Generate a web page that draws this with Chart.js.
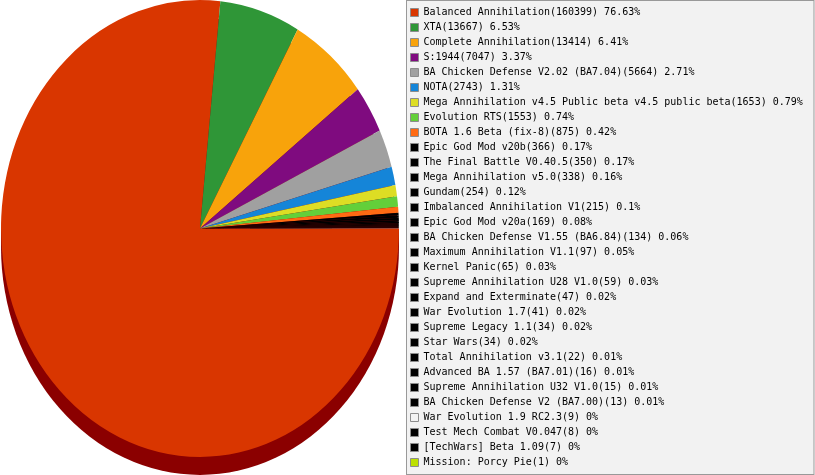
<!DOCTYPE html>
<html>
<head>
<meta charset="utf-8">
<script src="https://cdn.jsdelivr.net/npm/chart.js@4/dist/chart.umd.min.js"></script>
<style>
  html, body { margin:0; padding:0; background:#fff; }
  #wrap { width:815px; height:475px; }
</style>
</head>
<body>
<div id="wrap"><canvas id="pie"></canvas></div>
<script>
// ===== DATA =====
const names = [
  "Balanced Annihilation", "XTA", "Complete Annihilation", "S:1944",
  "BA Chicken Defense V2.02 (BA7.04)", "NOTA",
  "Mega Annihilation v4.5 Public beta v4.5 public beta", "Evolution RTS",
  "BOTA 1.6 Beta (fix-8)", "Epic God Mod v20b", "The Final Battle V0.40.5",
  "Mega Annihilation v5.0", "Gundam", "Imbalanced Annihilation V1",
  "Epic God Mod v20a", "BA Chicken Defense V1.55 (BA6.84)",
  "Maximum Annihilation V1.1", "Kernel Panic", "Supreme Annihilation U28 V1.0",
  "Expand and Exterminate", "War Evolution 1.7", "Supreme Legacy 1.1",
  "Star Wars", "Total Annihilation v3.1", "Advanced BA 1.57 (BA7.01)",
  "Supreme Annihilation U32 V1.0", "BA Chicken Defense V2 (BA7.00)",
  "War Evolution 1.9 RC2.3", "Test Mech Combat V0.047", "[TechWars] Beta 1.09",
  "Mission: Porcy Pie"
];
const counts = [
  160399, 13667, 13414, 7047, 5664, 2743, 1653, 1553, 875, 366, 350, 338,
  254, 215, 169, 134, 97, 65, 59, 47, 41, 34, 34, 22, 16, 15, 13, 9, 8, 7, 1
];
const pcts = [
  "76.63", "6.53", "6.41", "3.37", "2.71", "1.31", "0.79", "0.74", "0.42",
  "0.17", "0.17", "0.16", "0.12", "0.1", "0.08", "0.06", "0.05", "0.03",
  "0.03", "0.02", "0.02", "0.02", "0.02", "0.01", "0.01", "0.01", "0.01",
  "0", "0", "0", "0"
];
const colors = [
  "#d93600", "#2f9637", "#f8a30b", "#7f0b7f", "#a0a0a0", "#1585d8",
  "#dddd24", "#63cf3a", "#ff6a13", "#000000", "#000000", "#000000",
  "#000000", "#000000", "#000000", "#000000", "#000000", "#000000",
  "#000000", "#000000", "#000000", "#000000", "#000000", "#000000",
  "#000000", "#000000", "#000000", "#f2f2f2", "#000000", "#000000",
  "#bde000"
];

const labels = names.map((n,i)=>`${n}(${counts[i]}) ${pcts[i]}%`);

// ===== LOOK =====
const TILT = 1.148;   // vertical stretch of the pie face
const DEPTH = 18;     // thickness of the pie side
const SIDE = '#8b0000';

// pie face stretched + dark side underneath, pie hugging the left edge
const tiltPlugin = {
  id:'tilt',
  beforeDatasetsDraw(chart){
    const arc = chart.getDatasetMeta(0).data[0];
    if(!arc) return;
    const {x, y, outerRadius:r} = arc;
    const ctx = chart.ctx;
    const cx = chart.chartArea.left + r + 1;
    ctx.save();
    ctx.translate(cx, y - DEPTH/2);
    ctx.scale(1, TILT);
    ctx.translate(-x, -y);
    const d = DEPTH / TILT;
    ctx.fillStyle = SIDE;
    ctx.fillRect(x - r, y, 2*r, d);
    ctx.beginPath();
    ctx.arc(x, y + d, r, 0, Math.PI*2);
    ctx.fill();
  },
  afterDatasetsDraw(chart){
    chart.ctx.restore();
  }
};

// grey panel behind the legend
const legendBox = {
  id:'legendBox',
  beforeDraw(chart){
    const lg = chart.legend;
    const ctx = chart.ctx;
    ctx.save();
    ctx.fillStyle = '#f2f2f2';
    ctx.strokeStyle = '#999';
    ctx.lineWidth = 1;
    const left = Math.round(lg.left) + 0.5;
    ctx.fillRect(left, 0.5, chart.width - 1 - left, chart.height - 1);
    ctx.strokeRect(left, 0.5, chart.width - 1 - left, chart.height - 1);
    ctx.restore();
  }
};

new Chart(document.getElementById('pie'), {
  type:'pie',
  data:{
    labels: labels,
    datasets:[{
      data: counts,
      backgroundColor: colors,
      borderWidth: 0,
      radius: 199,
      clip: false
    }]
  },
  options:{
    responsive:true,
    maintainAspectRatio:false,
    animation:false,
    rotation: 90,
    layout:{ padding:{ left:0, right:4, top:0, bottom:0 } },
    plugins:{
      tooltip:{ enabled:false },
      legend:{
        position:'right',
        labels:{
          boxWidth:8,
          boxHeight:8,
          padding:5,
          color:'#000',
          font:{ family:'"DejaVu Sans Mono", monospace', size:10 },
          generateLabels(chart){
            const base = Chart.overrides.pie.plugins.legend.labels.generateLabels(chart);
            return base.map(it => ({ ...it, strokeStyle:'#8c8c8c', lineWidth:1 }));
          }
        }
      }
    }
  },
  plugins:[tiltPlugin, legendBox]
});
</script>
</body>
</html>
